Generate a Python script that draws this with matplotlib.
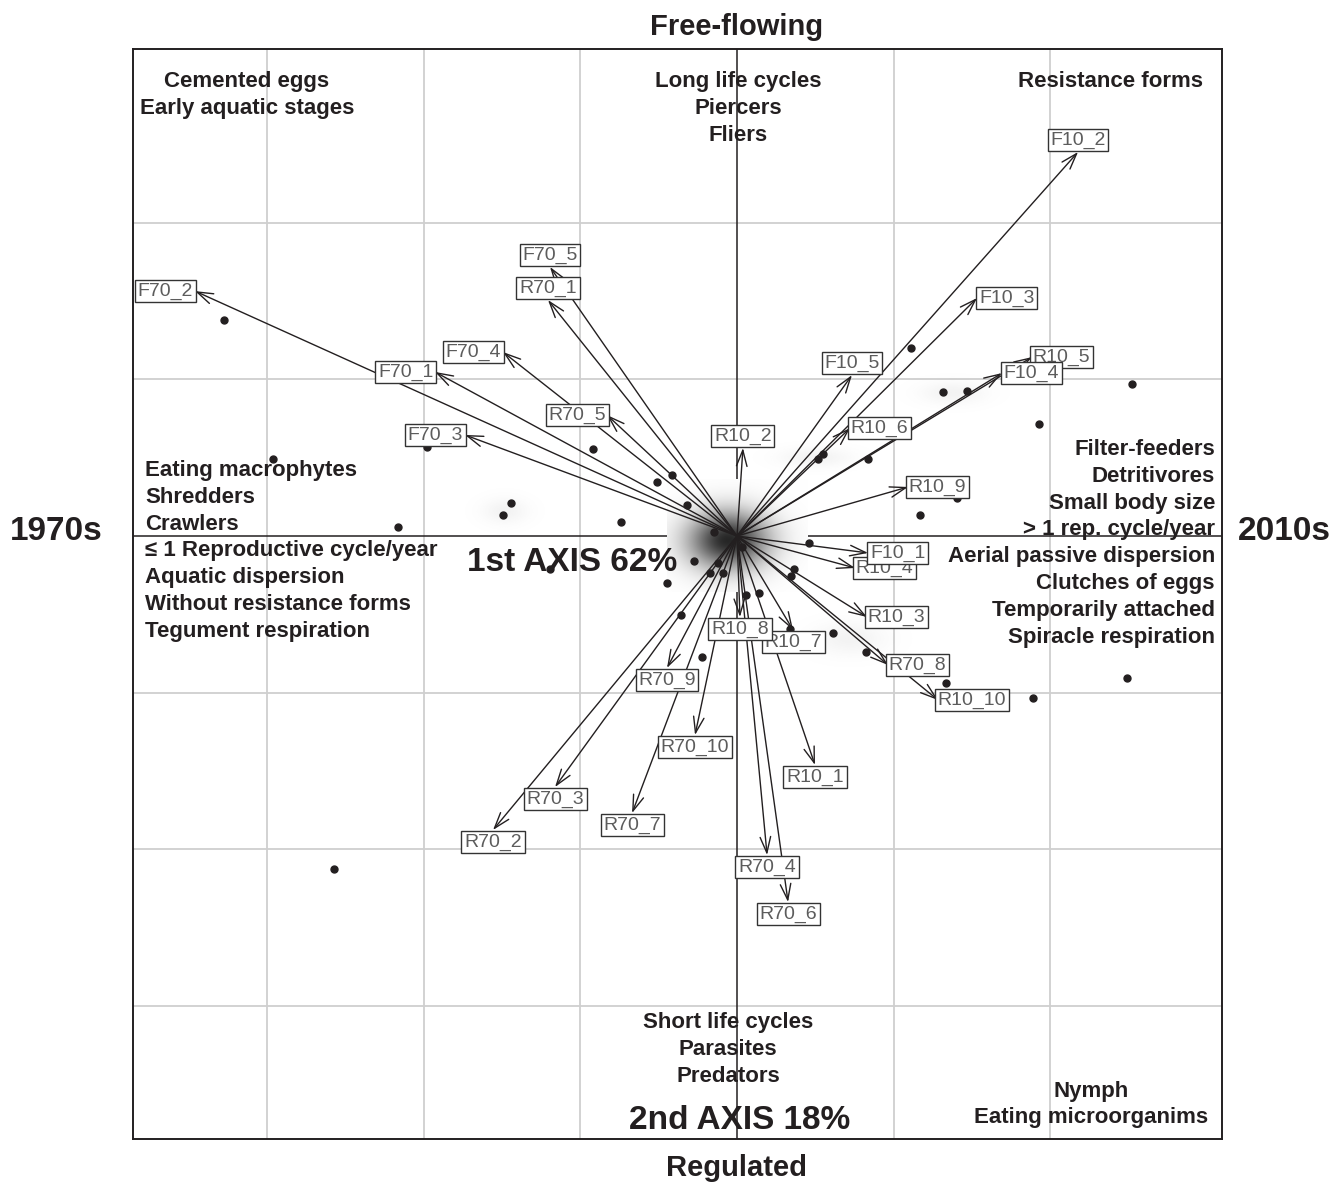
import numpy as np
import matplotlib
matplotlib.use("Agg")
import matplotlib.pyplot as plt

# arrow end points (trait x period scores)
arrow_names = ["R70_1", "R70_2", "R70_3", "R70_4", "R70_5", "R70_6", "R70_7", "R70_8", "R70_9", "R70_10",
               "R10_1", "R10_2", "R10_3", "R10_4", "R10_5", "R10_6", "R10_7", "R10_8", "R10_9", "R10_10",
               "F70_1", "F70_2", "F70_3", "F70_4", "F70_5",
               "F10_1", "F10_2", "F10_3", "F10_4", "F10_5"]
arrow_x = [-1.207, -1.558, -1.162, 0.192, -0.830, 0.326, -0.670, 0.964, -0.447, -0.268,
           0.498, 0.038, 0.830, 0.754, 1.884, 0.722, 0.358, 0.019, 1.092, 1.284,
           -1.928, -3.461, -1.737, -1.494, -1.194,
           0.837, 2.178, 1.533, 1.692, 0.734]
arrow_y = [1.506, -1.876, -1.602, -2.036, 0.772, -2.336, -1.768, -0.823, -0.842, -1.270,
           -1.461, 0.562, -0.517, -0.204, 1.142, 0.689, -0.600, -0.517, 0.313, -1.047,
           1.047, 1.563, 0.645, 1.174, 1.717,
           -0.108, 2.451, 1.519, 1.040, 1.027]

# taxa scores
taxa_x = [-3.276, -2.963, -1.980, -2.165, -1.443, -1.494, -1.194, -0.920, -0.741, -0.511,
          -0.415, -0.319, -0.147, -0.275, -0.447, -0.121, -0.172, -0.089, 0.032, -0.358,
          0.057, 0.140, 0.460, 0.364, 0.345, 0.549, 0.517, 1.111, 1.315, 1.469,
          0.837, 1.928, 2.522, 1.405, 1.169, 2.490, 1.890, 1.335, 0.613, 0.824,
          -0.224, 0.338, -2.573]
taxa_y = [1.378, 0.491, 0.568, 0.057, 0.211, 0.134, -0.211, 0.555, 0.089, 0.345,
          0.389, 0.198, 0.026, -0.160, -0.300, -0.172, -0.236, -0.236, -0.070, -0.504,
          -0.377, -0.364, -0.045, -0.211, -0.255, 0.523, 0.491, 1.200, 0.919, 0.925,
          0.491, 0.715, 0.970, 0.243, 0.134, -0.906, -1.034, -0.938, -0.619, -0.740,
          -0.772, -0.593, -2.125]

left_traits = ["Eating macrophytes", "Shredders", "Crawlers", "\u2264 1 Reproductive cycle/year",
               "Aquatic dispersion", "Without resistance forms", "Tegument respiration"]
right_traits = ["Filter-feeders", "Detritivores", "Small body size", "> 1 rep. cycle/year",
                "Aerial passive dispersion", "Clutches of eggs", "Temporarily attached",
                "Spiracle respiration"]
topleft_traits = ["Cemented eggs", "Early aquatic stages"]
top_traits = ["Long life cycles", "Piercers", "Fliers"]
topright_traits = ["Resistance forms"]
bottom_traits = ["Short life cycles", "Parasites", "Predators"]
bottomright_traits = ["Nymph", "Eating microorganims"]

ink = "#231f20"
bold = dict(family=["Liberation Sans", "DejaVu Sans"], weight="bold", color=ink)
unit = 156.6          # pixels per axis unit
step = 26.8 / unit    # line step of the trait lists
dy = -2.5 / unit      # small nudge so the letters sit where the reference has them

fig = plt.figure(figsize=(13.33, 11.82), dpi=100)
ax = fig.add_axes([133 / 1333, 1 - 1139 / 1182, (1222 - 133) / 1333, (1139 - 49) / 1182])
ax.set_xlim(-3.857, 3.097)
ax.set_ylim(-3.848, 3.108)
ax.set_xticks([])
ax.set_yticks([])
for s in ax.spines.values():
    s.set_linewidth(1.4)
    s.set_color(ink)

for g in [-3, -2, -1, 1, 2]:
    ax.axvline(g, color="#cfcfcf", lw=1.3, zorder=1)
    ax.axhline(g, color="#cfcfcf", lw=1.3, zorder=1)
ax.axvline(0, color=ink, lw=1.1, zorder=2)
ax.axhline(0, color=ink, lw=1.1, zorder=2)

# grey halo around the origin
gx, gy = np.meshgrid(np.linspace(-0.45, 0.45, 200), np.linspace(-0.36, 0.36, 160))
shade = 1 - 0.85 * np.exp(-(((gx + 0.06) / 0.25) ** 2 + ((gy + 0.03) / 0.18) ** 2))
img = np.dstack([shade, shade, shade, np.ones_like(shade)])
ax.imshow(img, extent=(-0.45, 0.45, -0.36, 0.36), origin="lower", aspect="auto",
          interpolation="bilinear", zorder=3)

# faint smudges around a few dense groups of points
for cx, cy, sx, sy in [(-1.48, 0.16, 0.14, 0.08), (0.50, 0.50, 0.22, 0.06),
                       (1.38, 0.91, 0.20, 0.07), (0.72, -0.66, 0.22, 0.10)]:
    hx, hy = np.meshgrid(np.linspace(-3 * sx, 3 * sx, 80), np.linspace(-3 * sy, 3 * sy, 60))
    a = 0.12 * np.exp(-((hx / sx) ** 2 + (hy / sy) ** 2))
    smudge = np.dstack([np.full_like(a, 0.6)] * 3 + [a])
    ax.imshow(smudge, extent=(cx - 3 * sx, cx + 3 * sx, cy - 3 * sy, cy + 3 * sy),
              origin="lower", aspect="auto", interpolation="bilinear", zorder=3)

for name, x, y in zip(arrow_names, arrow_x, arrow_y):
    ax.annotate("", xy=(x, y), xytext=(0, 0), zorder=4,
                arrowprops=dict(arrowstyle="->,head_length=1.15,head_width=0.38", lw=1.0,
                                color=ink, shrinkA=0, shrinkB=0, mutation_scale=10))
    # label box just beyond the arrow tip, on its dominant side
    if abs(x) >= abs(y):
        lx, ly = x + np.sign(x) * (4.5 * len(name) + 7) / unit, y
    else:
        lx, ly = x, y + np.sign(y) * 12 / unit
    ax.text(lx, ly, name, ha="center", va="center", fontsize=14,
            color="#5c5c5c", family=["Liberation Sans", "DejaVu Sans"], zorder=6,
            bbox=dict(boxstyle="square,pad=0.14", fc="white", ec="#333333", lw=1.0))

ax.plot(taxa_x, taxa_y, "o", color=ink, ms=5, zorder=5)

# trait lists
for i, t in enumerate(left_traits):
    ax.text(-3.780, 0.434 - i * step + dy, t, ha="left", va="center", fontsize=16, zorder=7, **bold)
for i, t in enumerate(right_traits):
    ax.text(3.052, 0.568 - i * step + dy, t, ha="right", va="center", fontsize=16, zorder=7, **bold)
for i, t in enumerate(topleft_traits):
    ax.text(-3.129, 2.916 - i * step + dy, t, ha="center", va="center", fontsize=16, zorder=7, **bold)
for i, t in enumerate(top_traits):
    ax.text(0.006, 2.916 - i * step + dy, t, ha="center", va="center", fontsize=16, zorder=7, **bold)
for i, t in enumerate(topright_traits):
    ax.text(2.382, 2.916 - i * step + dy, t, ha="center", va="center", fontsize=16, zorder=7, **bold)
for i, t in enumerate(bottom_traits):
    ax.text(-0.057, -3.089 - i * step + dy, t, ha="center", va="center", fontsize=16, zorder=7, **bold)
for i, t in enumerate(bottomright_traits):
    ax.text(2.26, -3.529 - i * 0.166 + dy, t, ha="center", va="center", fontsize=16, zorder=7, **bold)

ax.text(-1.054, -0.153 + dy, "1st AXIS 62%", ha="center", va="center", fontsize=24, zorder=7, **bold)
ax.text(0.019, -3.714 + dy, "2nd AXIS 18%", ha="center", va="center", fontsize=24, zorder=7, **bold)

fig.text(737 / 1333, 1 - 27 / 1182, "Free-flowing", ha="center", va="center", fontsize=21, **bold)
fig.text(737 / 1333, 1 - 1168 / 1182, "Regulated", ha="center", va="center", fontsize=21, **bold)
fig.text(56 / 1333, 1 - 532 / 1182, "1970s", ha="center", va="center", fontsize=24, **bold)
fig.text(1284 / 1333, 1 - 532 / 1182, "2010s", ha="center", va="center", fontsize=24, **bold)

fig.savefig("out.png", dpi=100)
